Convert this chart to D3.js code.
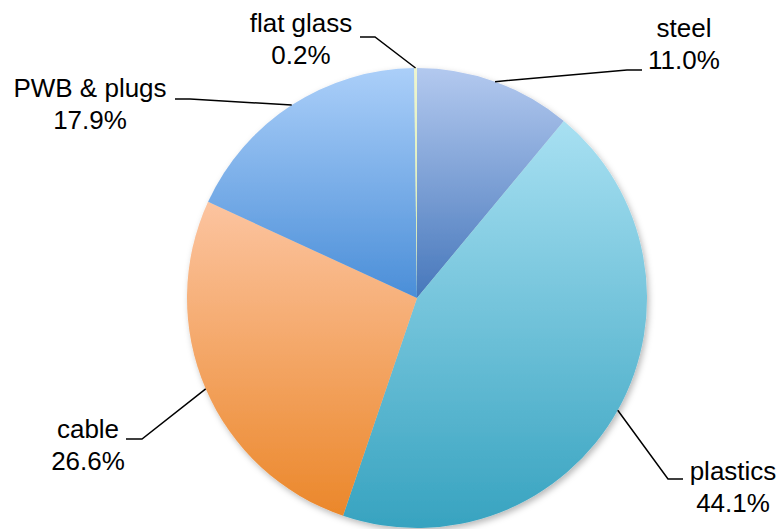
<!DOCTYPE html>
<html>
<head>
<meta charset="utf-8">
<script src="https://cdn.jsdelivr.net/npm/d3@7/dist/d3.min.js"></script>
<style>
  html, body { margin: 0; padding: 0; background: #fff; }
  svg { display: block; }
  text { font-family: "Liberation Sans", Arial, sans-serif; fill: #000; }
</style>
</head>
<body>
<svg id="chart" width="781" height="529"></svg>
<script>
// Material shares, clockwise from 12 o'clock
const categories = ["steel", "plastics", "cable", "PWB & plugs", "flat glass"];
const shares = [11.0, 44.1, 26.6, 17.9, 0.2];
const shareLabels = ["11.0%", "44.1%", "26.6%", "17.9%", "0.2%"];

// Slice gradient stops (top colour, bottom colour)
const topColors = ["#b3c9ef", "#a8e0f2", "#fcc4a0", "#abcff9", "#eef6cf"];
const bottomColors = ["#4677bb", "#37a3c0", "#eb872a", "#4a8ed8", "#d6ebb0"];

// Label placement: text centre, baselines, and leader elbow/end points
const labelLayout = [
  { x: 684, y: 37, elbow: [627, 70], end: [642, 70] },
  { x: 733, y: 480, elbow: [668, 479], end: [683, 479] },
  { x: 88, y: 438, elbow: [142, 439], end: [126, 439] },
  { x: 90, y: 97, elbow: [190, 99], end: [175, 99] },
  { x: 301, y: 32, elbow: [375, 37], end: [360, 37] }
];

const cx = 417, cy = 298, radius = 230;
const svg = d3.select("#chart");
const defs = svg.append("defs");

const shadow = defs.append("filter").attr("id", "pieShadow")
  .attr("x", "-10%").attr("y", "-10%").attr("width", "125%").attr("height", "125%");
shadow.append("feDropShadow")
  .attr("dx", 2).attr("dy", 3).attr("stdDeviation", 3)
  .attr("flood-color", "#000").attr("flood-opacity", 0.28);

categories.forEach((c, i) => {
  const g = defs.append("linearGradient").attr("id", "grad" + i)
    .attr("x1", 0).attr("y1", 0).attr("x2", 0).attr("y2", 1);
  g.append("stop").attr("offset", "0%").attr("stop-color", topColors[i]);
  g.append("stop").attr("offset", "100%").attr("stop-color", bottomColors[i]);
});

const data = categories.map((c, i) => ({ name: c, value: shares[i], label: shareLabels[i], idx: i }));

const pie = d3.pie().sort(null).value(d => d.value);
const arcs = pie(data);
const arc = d3.arc().innerRadius(0).outerRadius(radius);

const g = svg.append("g").attr("transform", `translate(${cx},${cy})`);
g.append("g").attr("filter", "url(#pieShadow)")
  .selectAll("path").data(arcs).join("path")
  .attr("d", arc)
  .attr("fill", d => `url(#grad${d.data.idx})`);

// Leader lines from slice edge midpoints
const anchorPoint = d => {
  const a = (d.startAngle + d.endAngle) / 2;
  return [cx + radius * Math.sin(a), cy - radius * Math.cos(a)];
};

svg.append("g").selectAll("polyline").data(arcs).join("polyline")
  .attr("points", d => {
    const L = labelLayout[d.data.idx];
    return [anchorPoint(d), L.elbow, L.end].map(p => p.join(",")).join(" ");
  })
  .attr("fill", "none").attr("stroke", "#000").attr("stroke-width", 1.5);

const labels = svg.append("g").selectAll("text").data(arcs).join("text")
  .attr("text-anchor", "middle")
  .attr("font-size", 26);
labels.append("tspan")
  .attr("x", d => labelLayout[d.data.idx].x)
  .attr("y", d => labelLayout[d.data.idx].y)
  .text(d => d.data.name);
labels.append("tspan")
  .attr("x", d => labelLayout[d.data.idx].x)
  .attr("y", d => labelLayout[d.data.idx].y + 32)
  .text(d => d.data.label);
</script>
</body>
</html>
